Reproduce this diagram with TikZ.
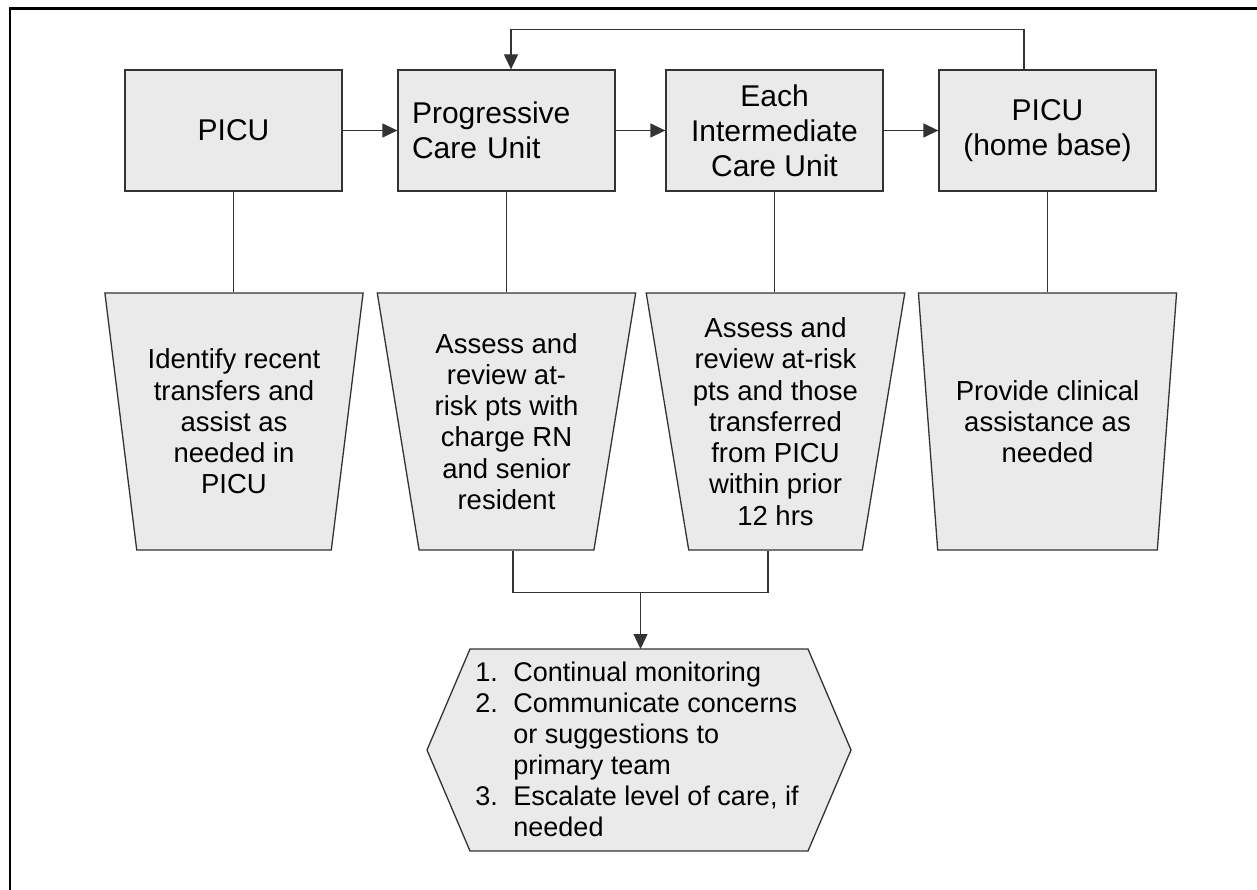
\documentclass[tikz,border=0pt]{standalone}
\usepackage{fontspec}
\setmainfont{Liberation Sans}
\usetikzlibrary{arrows.meta,shapes.geometric,calc}
\definecolor{boxfill}{HTML}{EAEAEA}
\definecolor{edgec}{HTML}{333333}
\begin{document}
\begin{tikzpicture}[x=1pt,y=-1pt,
  line/.style={draw=edgec,line width=1.3pt},
  arr/.style={line,-{Triangle[length=15pt,width=14pt]}},
  unit/.style={line,fill=boxfill,minimum width=217pt,minimum height=121pt,inner sep=0pt,align=center,font=\fontsize{30}{35}\selectfont},
  task/.style={line,fill=boxfill,trapezium,shape border rotate=180,trapezium angle=79,trapezium stretches=true,minimum width=259pt,minimum height=257pt,inner sep=0pt,align=center,font=\fontsize{27.5}{31.3}\selectfont},
  hexa/.style={line,fill=boxfill,line join=miter},
  txt/.style={inner sep=0pt,font=\fontsize{27}{31}\selectfont}
]
\useasboundingbox (0,0) rectangle (1257,890);
\draw[line width=2.6pt,line join=miter] (10,895) -- (10,8.5) -- (1262,8.5);

% top row
\node[unit] (b1) at (233.5,130.5) {PICU};
\node[unit,text width=189pt,align=left] (b2) at (506.5,130.5) {Progressive\\Care Unit};
\node[unit] (b3) at (774.5,130.5) {Each\\Intermediate\\Care Unit};
\node[unit] (b4) at (1047.5,130.5) {PICU\\(home base)};

% trapezoids
\node[task] (t1) at (234,421.5) {Identify recent\\transfers and\\assist as\\needed in\\PICU};
\node[task] (t2) at (506.5,421.5) {Assess and\\review at-\\risk pts with\\charge RN\\and senior\\resident};
\node[task] (t3) at (775.5,421.5) {Assess and\\review at-risk\\pts and those\\transferred\\from PICU\\within prior\\12 hrs};
\node[task] (t4) at (1047.5,421.5) {Provide clinical\\assistance as\\needed};

% hexagon
\coordinate (hc) at (639,750);
\draw[hexa] ($(hc)+(-169,-101)$) -- ($(hc)+(169,-101)$) -- ($(hc)+(212,0)$) -- ($(hc)+(169,101)$) -- ($(hc)+(-169,101)$) -- ($(hc)+(-212,0)$) -- cycle;
\coordinate (hxtop) at ($(hc)+(0,-101)$);
\node[txt] (hx) at (637,753) {\begin{tabular}{@{}p{38pt}@{}l@{}}
1. & Continual monitoring\\
2. & Communicate concerns\\
   & or suggestions to\\
   & primary team\\
3. & Escalate level of care, if\\
   & needed
\end{tabular}};

% connectors
\draw[arr] (b1.east) -- (b2.west);
\draw[arr] (b2.east) -- (b3.west);
\draw[arr] (b3.east) -- (b4.west);
\draw[arr] ([xshift=-23.5pt]b4.north) -- ++(0,-40) -| ([xshift=4.5pt]b2.north);

\draw[line] (b1.south) -- (b1.south |- t1.north);
\draw[line] (b2.south) -- (b2.south |- t2.north);
\draw[line] (b3.south) -- (b3.south |- t3.north);
\draw[line] (b4.south) -- (b4.south |- t4.north);

\coordinate (l2) at ([xshift=6.5pt]t2.south);
\coordinate (l3) at ([xshift=-7.5pt]t3.south);
\draw[line] (l2) -- ++(0,42) -| (l3);
\coordinate (j) at ($(l2)!0.5!(l3)+(0,42)$);
\draw[arr] (j) -- (j |- hxtop);
\end{tikzpicture}
\end{document}
